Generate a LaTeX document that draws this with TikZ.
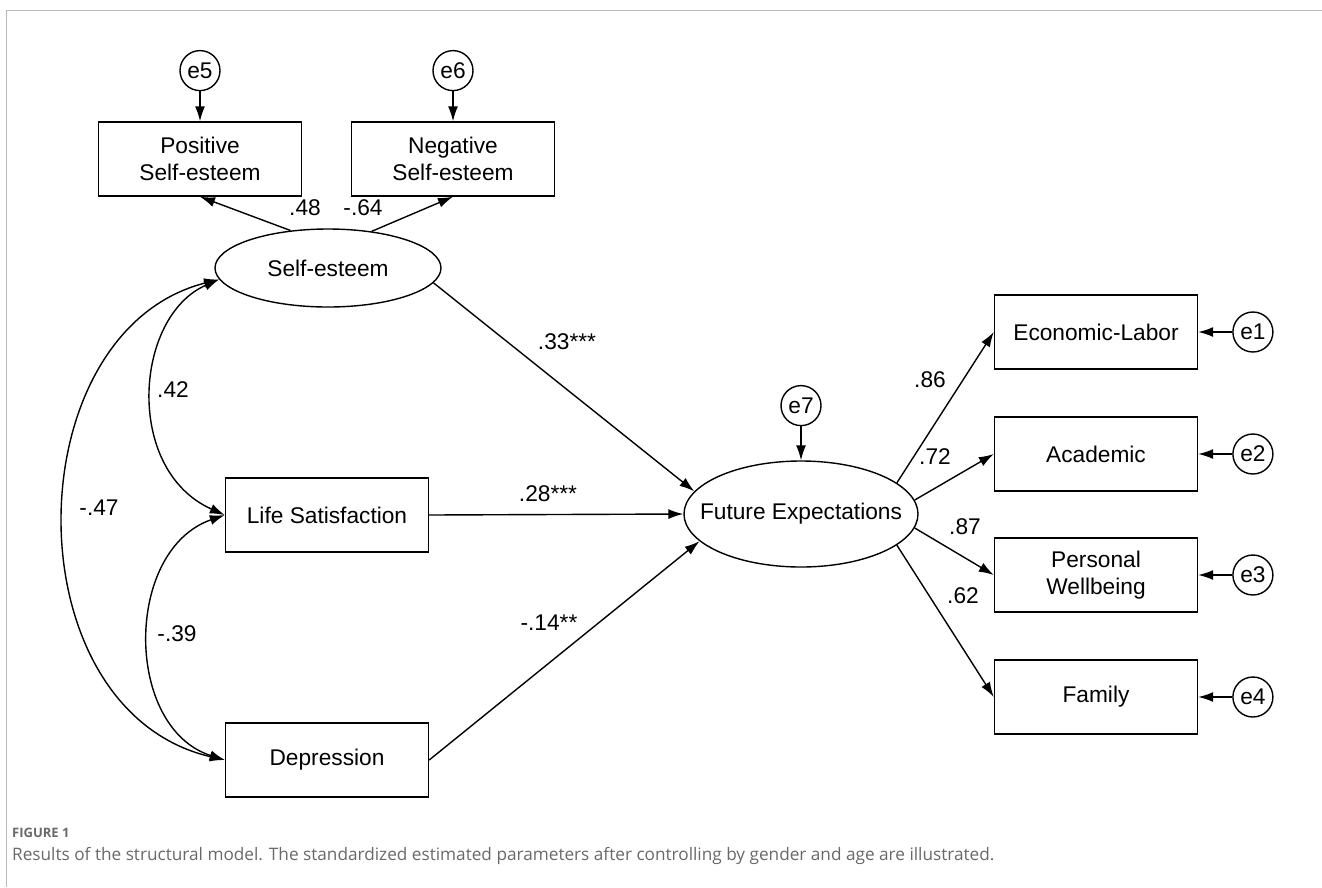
\documentclass[tikz,border=0pt]{standalone}
\usepackage{fontspec}
\setmainfont{Liberation Sans}
\newfontfamily\capfont{Open Sans}
\usetikzlibrary{arrows.meta, positioning, shapes.geometric}
\definecolor{capgrey}{RGB}{105,105,105}
\definecolor{framegrey}{RGB}{185,185,185}

\begin{document}
\begin{tikzpicture}[x=1pt, y=-1pt,
                box/.style={rectangle,
                draw,
                line width=1.4pt,
                minimum width=203pt,
                minimum height=74pt,
                inner sep=0pt,
                font=\fontsize{22.7}{27}\selectfont,
                align=center},
                lat/.style={ellipse, draw, line width=1.4pt, inner xsep=-30pt,
                inner ysep=0pt, font=\fontsize{22.7}{27}\selectfont},
                err/.style={circle, draw, line width=1.4pt, minimum size=40pt,
                inner sep=0pt, font=\fontsize{22.7}{27}\selectfont},
                lbl/.style={inner sep=0pt, font=\fontsize{22.7}{27}\selectfont},
                arr/.style={-{Latex[length=15pt, width=10pt]}, line width=1.4pt},
                cov/.style={{Latex[length=15pt, width=10pt]}-{Latex[length=15pt, width=10pt]},
                line width=1.4pt},
                node distance=30pt]
                \useasboundingbox (0,0) rectangle (1322,887);
                \draw[framegrey, line width=1pt] (6,887) -- (6,10) -- (1322,10);
                % measurement model of self-esteem
                \node[box] (pos) at (200,159) {Positive\\Self-esteem};
                \node[box] (neg) at (453,159) {Negative\\Self-esteem};
                \node[err, above=of pos] (e5) {e5};
                \node[err, above=of neg] (e6) {e6};
                \node[lat, minimum width=226pt, minimum height=78pt] (se)
                    at (328,268) {Self-esteem};
                % predictors
                \node[box] (ls) at (327,515) {Life Satisfaction};
                \node[box] (dep) at (327,760) {Depression};
                % outcome and its indicators
                \node[lat, minimum width=234pt, minimum height=106pt] (fe)
                    at (801,514) {Future Expectations};
                \node[err, above=34pt of fe] (e7) {e7};
                \node[box] (econ) at (1096,332) {Economic-Labor};
                \node[box] (acad) at (1096,454) {Academic};
                \node[box] (pw) at (1096,575) {Personal\\Wellbeing};
                \node[box] (fam) at (1096,697) {Family};
                \node[err, right=34pt of econ] (e1) {e1};
                \node[err, right=34pt of acad] (e2) {e2};
                \node[err, right=34pt of pw] (e3) {e3};
                \node[err, right=34pt of fam] (e4) {e4};
                % paths
                \draw[arr] (e5)--(pos);
                \draw[arr] (e6)--(neg);
                \draw[arr] (se.135)--(pos.south);
                \draw[arr] (se.40)--(neg.south);
                \draw[arr] (se.-8)--(fe.168);
                \draw[arr] (ls.east)--(fe.west);
                \draw[arr] (dep.east)--(fe.195);
                \draw[arr] (e7)--(fe);
                \draw[arr] (fe.18)--(econ.west);
                \draw[arr] (fe.7)--(acad.west);
                \draw[arr] (fe.-7)--(pw.west);
                \draw[arr] (fe.-18)--(fam.west);
                \draw[arr] (e1)--(econ);
                \draw[arr] (e2)--(acad);
                \draw[arr] (e3)--(pw);
                \draw[arr] (e4)--(fam);
                % covariances
                \draw[cov] (se.186) .. controls +(-85,37) and +(-101,-45) .. (ls.west);
                \draw[cov] (ls.west) .. controls +(-101,35) and +(-101,-32) .. (dep.west);
                \draw[cov] (se.186) .. controls +(-205,52) and +(-215,-50) .. (dep.west);
                % estimates
                \node[lbl] (l48) at (305,208) {.48};
                \node[lbl] (l64) at (363,208) {-.64};
                \node[lbl] (l33) at (567,342) {.33***};
                \node[lbl] (l28) at (548,494) {.28***};
                \node[lbl] (l14) at (549,623) {-.14**};
                \node[lbl] (l42) at (173,390) {.42};
                \node[lbl] (l39) at (177,634) {-.39};
                \node[lbl] (l47) at (99,508) {-.47};
                \node[lbl] (l86) at (930,380) {.86};
                \node[lbl] (l72) at (935,457) {.72};
                \node[lbl] (l87) at (965,527) {.87};
                \node[lbl] (l62) at (963,596) {.62};
                % caption
                \node[anchor=west, inner sep=0pt, text=capgrey,
                      font=\capfont\bfseries\fontsize{13}{15}\selectfont] (figno)
                    at (12,833) {FIGURE 1};
                \node[anchor=west, inner sep=0pt, text=capgrey,
                      font=\capfont\fontsize{17.2}{20}\selectfont] (caption)
                    at (12,856) {Results of the structural model. The standardized estimated parameters after controlling by gender and age are illustrated.};
            \end{tikzpicture}
\end{document}
